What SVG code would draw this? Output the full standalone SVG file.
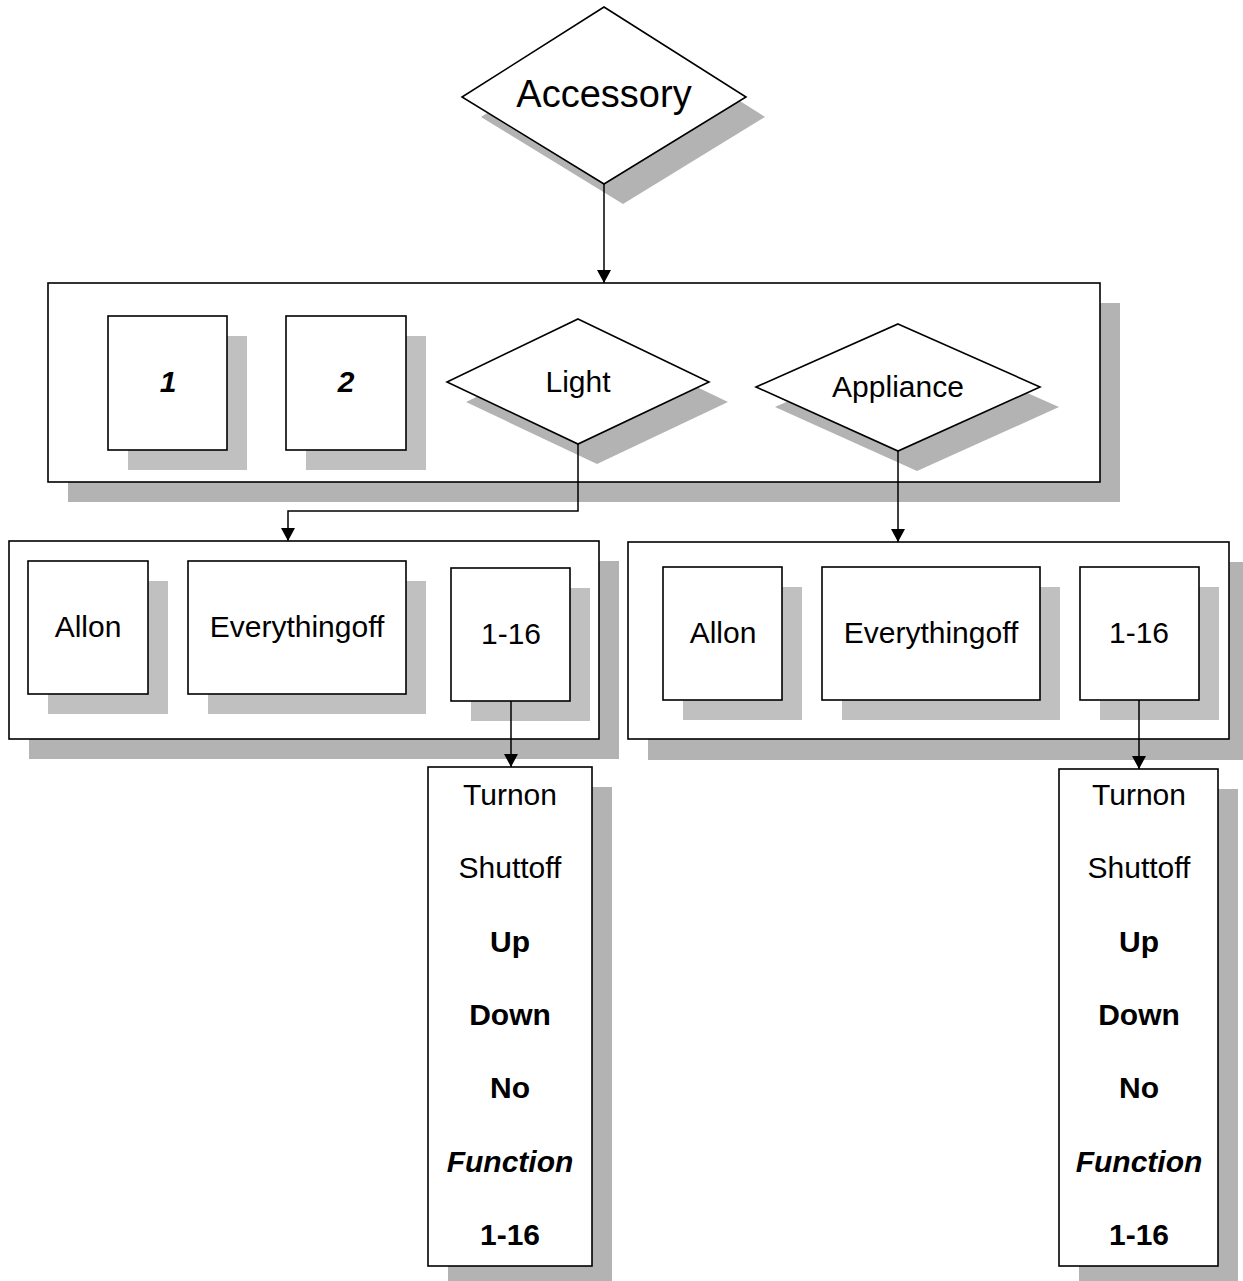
<svg xmlns="http://www.w3.org/2000/svg" width="1243" height="1281" viewBox="0 0 1243 1281">
  <defs>
    <marker id="arrow" markerUnits="userSpaceOnUse" markerWidth="14" markerHeight="16" refX="13" refY="7" orient="auto" viewBox="0 0 14 14">
      <path d="M0,0 L13,7 L0,14 Z" fill="#000"/>
    </marker>
  </defs>
  <style>
    .box { fill: #fff; stroke: #000; stroke-width: 1.6; }
    .shadow { fill: #b3b3b3; }
    .shadow-in { fill: #c0c0c0; }
    .lbl { font-family: "Liberation Sans", Arial, sans-serif; font-size: 30px; text-anchor: middle; fill: #000; }
    .b { font-weight: bold; }
    .i { font-style: italic; }
    .conn { fill: none; stroke: #000; stroke-width: 1.5; }
  </style>

  <rect width="1243" height="1281" fill="#fff"/>

  <!-- top decision -->
  <g id="accessory">
    <polygon class="shadow" points="623,27 765,117 623,204 481,117"/>
    <polygon class="box" points="604,7 746,97 604,184 462,97"/>
    <text class="lbl" x="604" y="107" style="font-size:38px">Accessory</text>
  </g>

  <!-- accessory type group -->
  <g id="type-group">
    <rect class="shadow" x="68" y="303" width="1052" height="199"/>
    <rect class="box" x="48" y="283" width="1052" height="199"/>
  </g>
  <g id="type-1">
    <rect class="shadow-in" x="128" y="336" width="119" height="134"/>
    <rect class="box" x="108" y="316" width="119" height="134"/>
    <text class="lbl b i" x="168" y="392">1</text>
  </g>
  <g id="type-2">
    <rect class="shadow-in" x="306" y="336" width="120" height="134"/>
    <rect class="box" x="286" y="316" width="120" height="134"/>
    <text class="lbl b i" x="346" y="392">2</text>
  </g>
  <g id="light">
    <polygon class="shadow" points="597,339 728,402 597,464 466,402"/>
    <polygon class="box" points="578,319 709,382 578,444 447,382"/>
    <text class="lbl" x="578" y="392">Light</text>
  </g>
  <g id="appliance">
    <polygon class="shadow" points="917,344 1059,407 917,471 775,407"/>
    <polygon class="box" points="898,324 1040,387 898,451 756,387"/>
    <text class="lbl" x="898" y="397">Appliance</text>
  </g>

  <!-- light commands -->
  <g id="light-group">
    <rect class="shadow" x="29" y="561" width="590" height="198"/>
    <rect class="box" x="9" y="541" width="590" height="198"/>
  </g>
  <g id="light-allon">
    <rect class="shadow-in" x="48" y="581" width="120" height="133"/>
    <rect class="box" x="28" y="561" width="120" height="133"/>
    <text class="lbl" x="88" y="637">Allon</text>
  </g>
  <g id="light-everythingoff">
    <rect class="shadow-in" x="208" y="581" width="218" height="133"/>
    <rect class="box" x="188" y="561" width="218" height="133"/>
    <text class="lbl" x="297" y="637">Everythingoff</text>
  </g>
  <g id="light-unit">
    <rect class="shadow-in" x="471" y="588" width="119" height="133"/>
    <rect class="box" x="451" y="568" width="119" height="133"/>
    <text class="lbl" x="511" y="644">1-16</text>
  </g>

  <!-- appliance commands -->
  <g id="appliance-group">
    <rect class="shadow" x="648" y="562" width="601" height="198"/>
    <rect class="box" x="628" y="542" width="601" height="197"/>
  </g>
  <g id="appliance-allon">
    <rect class="shadow-in" x="683" y="587" width="119" height="133"/>
    <rect class="box" x="663" y="567" width="119" height="133"/>
    <text class="lbl" x="723" y="643">Allon</text>
  </g>
  <g id="appliance-everythingoff">
    <rect class="shadow-in" x="842" y="587" width="218" height="133"/>
    <rect class="box" x="822" y="567" width="218" height="133"/>
    <text class="lbl" x="931" y="643">Everythingoff</text>
  </g>
  <g id="appliance-unit">
    <rect class="shadow-in" x="1100" y="587" width="119" height="133"/>
    <rect class="box" x="1080" y="567" width="119" height="133"/>
    <text class="lbl" x="1139" y="643">1-16</text>
  </g>

  <!-- function lists -->
  <g id="light-functions">
    <rect class="shadow" x="448" y="787" width="164" height="499"/>
    <rect class="box" x="428" y="767" width="164" height="499"/>
    <text class="lbl" x="510" y="805">Turnon</text>
    <text class="lbl" x="510" y="878">Shuttoff</text>
    <text class="lbl b" x="510" y="952">Up</text>
    <text class="lbl b" x="510" y="1025">Down</text>
    <text class="lbl b" x="510" y="1098">No</text>
    <text class="lbl b i" x="510" y="1172">Function</text>
    <text class="lbl b" x="510" y="1245">1-16</text>
  </g>
  <g id="appliance-functions">
    <rect class="shadow" x="1079" y="789" width="159" height="497"/>
    <rect class="box" x="1059" y="769" width="159" height="497"/>
    <text class="lbl" x="1139" y="805">Turnon</text>
    <text class="lbl" x="1139" y="878">Shuttoff</text>
    <text class="lbl b" x="1139" y="952">Up</text>
    <text class="lbl b" x="1139" y="1025">Down</text>
    <text class="lbl b" x="1139" y="1098">No</text>
    <text class="lbl b i" x="1139" y="1172">Function</text>
    <text class="lbl b" x="1139" y="1245">1-16</text>
  </g>

  <!-- connectors -->
  <g id="connectors">
    <path class="conn" d="M604,184 V283" marker-end="url(#arrow)"/>
    <path class="conn" d="M578,444 V511 H288 V541" marker-end="url(#arrow)"/>
    <path class="conn" d="M898,451 V542" marker-end="url(#arrow)"/>
    <path class="conn" d="M511,701 V767" marker-end="url(#arrow)"/>
    <path class="conn" d="M1139,700 V769" marker-end="url(#arrow)"/>
  </g>
</svg>
